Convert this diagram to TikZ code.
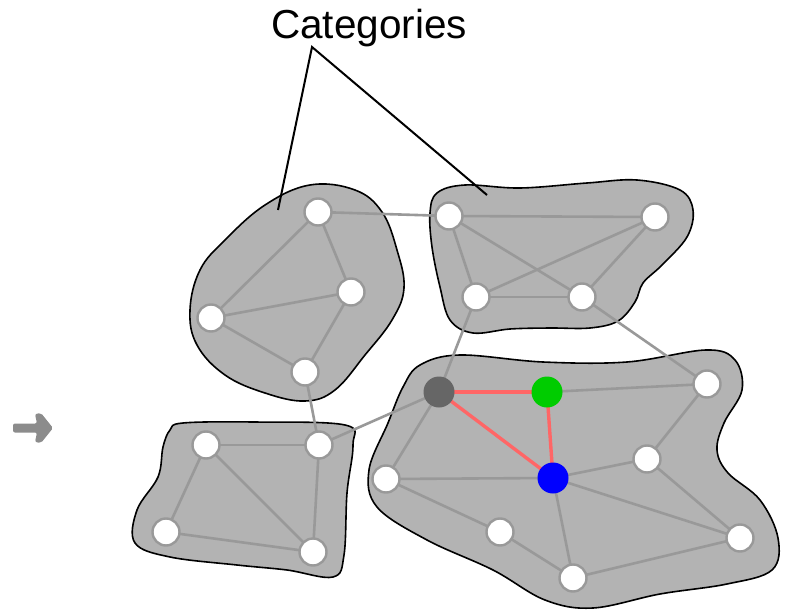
\documentclass[tikz,border=0pt]{standalone}
\usepackage{fontspec}
\setmainfont{Liberation Sans}
\pgfdeclarelayer{blobs}
\pgfdeclarelayer{edges}
\pgfsetlayers{blobs,edges,main}
\definecolor{blobgray}{HTML}{B3B3B3}
\definecolor{edgegray}{HTML}{999999}
\definecolor{redge}{HTML}{FF6666}
\definecolor{gnode}{HTML}{00CC00}
\definecolor{bnode}{HTML}{0000FF}
\definecolor{dnode}{HTML}{666666}
\definecolor{arrgray}{HTML}{8C8C8C}
\tikzset{
  blob/.style={draw=black, line width=1.6pt, fill=blobgray},
  wn/.style={circle, draw=edgegray, line width=2.4pt, fill=white, minimum size=27pt, inner sep=0pt},
  cn/.style={circle, draw=none, minimum size=31pt, inner sep=0pt},
  edge/.style={draw=edgegray, line width=2.6pt},
  redgestyle/.style={draw=redge, line width=3.4pt},
  callout/.style={draw=black, line width=2pt},
}
\begin{document}
\begin{tikzpicture}[x=1pt,y=-1pt]
\useasboundingbox (0,0) rectangle (788,613);
% title
\node[inner sep=0pt, anchor=base, font=\fontsize{40.5}{46}\selectfont] (cat) at (369,38) {Categories};
\coordinate (apex) at (312,47);
\coordinate (ta) at (278,210);
\coordinate (tb) at (487,195);
% arrow at left
\fill[arrgray, rounded corners=2pt] (13,423.5) -- (37,423.5) -- (35,414) -- (41,413) -- (53,428) -- (41,443) -- (35,442) -- (37,432.5) -- (13,432.5) -- cycle;
% blobs
\begin{pgfonlayer}{blobs}
\draw[blob] plot[smooth cycle, tension=0.65] coordinates {(310,185) (355,190) (382,212) (397,250) (404,288) (392,320) (365,355) (335,390) (305,401) (265,393) (225,375) (197,345) (190,310) (200,270) (225,240) (265,205)};
\draw[blob] plot[smooth cycle, tension=0.6] coordinates {(437,193) (465,185) (520,188) (587,183) (637,180) (680,190) (693,210) (687,237) (662,265) (643,283) (635,302) (618,321) (590,328) (550,328) (510,329) (473,333) (450,320) (440,287) (432,247) (430,213)};
\draw[blob] plot[smooth cycle, tension=0.6] coordinates {(183,423) (253,422) (345,425) (353,445) (347,493) (344,555) (333,577) (287,570) (237,565) (170,557) (135,543) (137,510) (158,477) (163,447) (170,430)};
\draw[blob] plot[smooth cycle, tension=0.6] coordinates {(420,365) (460,355) (543,362) (627,362) (706,350) (735,360) (742,390) (724,423) (717,450) (728,473) (760,500) (778,538) (772,570) (727,584) (660,594) (593,608) (545,600) (493,570) (427,540) (377,507) (369,470) (388,423) (403,387)};
\end{pgfonlayer}
% nodes cluster A
\node[wn] (a1) at (318,212) {};
\node[wn] (a2) at (351,292) {};
\node[wn] (a3) at (211,318) {};
\node[wn] (a4) at (305,372) {};
% cluster B
\node[wn] (b1) at (449,216) {};
\node[wn] (b2) at (655,217) {};
\node[wn] (b3) at (476,297) {};
\node[wn] (b4) at (582,297) {};
% cluster C
\node[wn] (c1) at (206,445) {};
\node[wn] (c2) at (319,445) {};
\node[wn] (c3) at (166,532) {};
\node[wn] (c4) at (313,552) {};
% cluster D
\node[cn, fill=dnode] (d0) at (439,392) {};
\node[cn, fill=gnode] (dg) at (547,392) {};
\node[cn, fill=bnode] (db) at (553,478) {};
\node[wn] (d1) at (707,384) {};
\node[wn] (d2) at (647,459) {};
\node[wn] (d3) at (386,479) {};
\node[wn] (d4) at (500,532) {};
\node[wn] (d5) at (740,538) {};
\node[wn] (d6) at (573,578) {};
\begin{pgfonlayer}{edges}
\draw[callout] (ta) -- (apex) -- (tb);
\draw[edge] (a1.center) -- (a2.center);
\draw[edge] (a1.center) -- (a3.center);
\draw[edge] (a3.center) -- (a2.center);
\draw[edge] (a3.center) -- (a4.center);
\draw[edge] (a2.center) -- (a4.center);
\draw[edge] (b1.center) -- (b2.center);
\draw[edge] (b1.center) -- (b3.center);
\draw[edge] (b1.center) -- (b4.center);
\draw[edge] (b3.center) -- (b2.center);
\draw[edge] (b3.center) -- (b4.center);
\draw[edge] (b4.center) -- (b2.center);
\draw[edge] (c1.center) -- (c2.center);
\draw[edge] (c1.center) -- (c3.center);
\draw[edge] (c1.center) -- (c4.center);
\draw[edge] (c3.center) -- (c4.center);
\draw[edge] (c2.center) -- (c4.center);
\draw[edge] (dg.center) -- (d1.center);
\draw[edge] (d1.center) -- (d2.center);
\draw[edge] (d2.center) -- (db.center);
\draw[edge] (d0.center) -- (d3.center);
\draw[edge] (d3.center) -- (db.center);
\draw[edge] (d3.center) -- (d4.center);
\draw[edge] (d4.center) -- (d6.center);
\draw[edge] (db.center) -- (d6.center);
\draw[edge] (db.center) -- (d5.center);
\draw[edge] (d2.center) -- (d5.center);
\draw[edge] (d6.center) -- (d5.center);
\draw[edge] (a1.center) -- (b1.center);
\draw[edge] (a4.center) -- (c2.center);
\draw[edge] (c2.center) -- (d0.center);
\draw[edge] (b3.center) -- (d0.center);
\draw[edge] (b4.center) -- (d1.center);
\draw[redgestyle] (d0.center) -- (dg.center);
\draw[redgestyle] (d0.center) -- (db.center);
\draw[redgestyle] (dg.center) -- (db.center);
\end{pgfonlayer}
\end{tikzpicture}
\end{document}
